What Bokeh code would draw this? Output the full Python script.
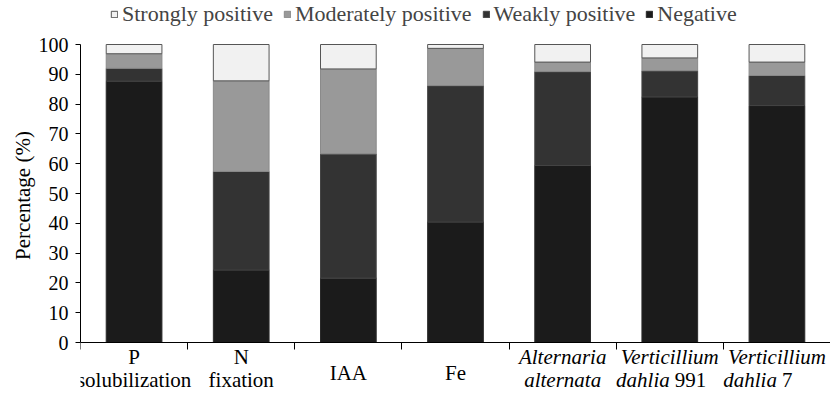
from bokeh.plotting import figure
from bokeh.models import Legend, LegendItem, FixedTicker, Range1d, ColumnDataSource, Title
from bokeh.embed import file_html
from bokeh.resources import INLINE

categories = ["P solubilization", "N fixation", "IAA", "Fe",
              "Alternaria alternata", "Verticillium dahlia 991", "Verticillium dahlia 7"]
negative = [87.7, 24.3, 21.6, 40.4, 59.4, 82.4, 79.5]
weakly = [4.3, 33.1, 41.7, 45.8, 31.5, 8.8, 10.1]
moderately = [4.9, 30.4, 28.5, 12.5, 3.2, 4.3, 4.5]
strongly = [3.1, 12.2, 8.2, 1.3, 5.9, 4.5, 5.9]
y_ticks = [0, 10, 20, 30, 40, 50, 60, 70, 80, 90, 100]

# label lines: (italic part, upright part)
label_line1 = [("", "P"), ("", "N"), None, None,
               ("Alternaria", ""), ("Verticillium", ""), ("Verticillium", "")]
label_line2 = [("", "solubilization"), ("", "fixation"), ("", "IAA"), ("", "Fe"),
               ("alternata", ""), ("dahlia", "991"), ("dahlia", "7")]

FONT = "Liberation Serif"
series = ["strongly", "moderately", "weakly", "negative"]
names = ["Strongly positive", "Moderately positive", "Weakly positive", "Negative"]
colors = {"negative": "#1b1b1b", "weakly": "#333333",
          "moderately": "#999999", "strongly": "#f1f1f1"}
lines = {"negative": "#2a2a2a", "weakly": "#444444",
         "moderately": "#8a8a8a", "strongly": "#555555"}

xs = [i + 0.5 for i in range(len(categories))]
data = dict(x=xs, negative=negative, weakly=weakly, moderately=moderately, strongly=strongly)

H = 390
PXU = 2.98               # pixels per percentage unit
TOP_PX = 44              # pixels from top of plot to the 100 line
y_end = 100 + TOP_PX / PXU
y_start = y_end - H / PXU

p = figure(output_backend="svg", toolbar_location=None,
           frame_width=750, frame_height=H,
           min_border_left=80, min_border_right=0,
           min_border_top=0, min_border_bottom=0,
           x_range=Range1d(0, len(categories)), y_range=Range1d(y_start, y_end))
p.outline_line_color = None
p.xgrid.visible = False
p.ygrid.visible = False

stack_order = ["negative", "weakly", "moderately", "strongly"]
rends = p.vbar_stack(stack_order, x="x", width=0.52, source=data,
                     color=[colors[s] for s in stack_order],
                     line_color=[lines[s] for s in stack_order], line_width=1)
rmap = dict(zip(stack_order, rends))

p.yaxis.bounds = (0, 100)
p.yaxis.ticker = FixedTicker(ticks=y_ticks)
p.yaxis.major_tick_out = 5
p.yaxis.major_tick_in = 0
p.yaxis.minor_tick_line_color = None
p.yaxis.major_label_text_font = FONT
p.yaxis.major_label_text_font_size = "20px"
p.yaxis.major_label_text_color = "black"
p.yaxis.major_label_standoff = 7
p.yaxis.axis_line_color = "black"

p.add_layout(Title(text="Percentage (%)", align="center", offset=19, standoff=2,
                   text_font=FONT, text_font_size="21px", text_font_style="normal",
                   text_color="black"), "left")

p.xaxis.fixed_location = 0
p.xaxis.ticker = FixedTicker(ticks=list(range(len(categories) + 1)))
p.xaxis.major_tick_out = 7
p.xaxis.major_tick_in = 0
p.xaxis.minor_tick_line_color = None
p.xaxis.major_label_text_font_size = "1px"
p.xaxis.major_label_text_alpha = 0
p.xaxis.major_label_standoff = 0
p.xaxis.axis_line_color = "black"

legend = Legend(items=[LegendItem(label=n, renderers=[rmap[s]]) for s, n in zip(series, names)],
                orientation="horizontal", location=(30, H - 27),
                label_text_font=FONT, label_text_font_size="22px",
                glyph_width=8, glyph_height=8, label_standoff=4, spacing=10,
                padding=0, margin=0, border_line_color=None, background_fill_alpha=0)
p.add_layout(legend, "center")

groups = {}
def add_piece(x, yoff, text, italic, align, xoff):
    if not text:
        return
    key = (italic, align)
    g = groups.setdefault(key, dict(x=[], y=[], text=[], xoff=[], yoff=[]))
    g["x"].append(x); g["y"].append(0); g["text"].append(text)
    g["xoff"].append(xoff); g["yoff"].append(yoff)

Y1, Y2, YS = 14, 37, 30
for i, x in enumerate(xs):
    l1, l2 = label_line1[i], label_line2[i]
    if l1 is None:
        add_piece(x, YS, l2[1], False, "center", 0)
        continue
    for line, yy in ((l1, Y1), (l2, Y2)):
        it, up = line
        if it and up:
            add_piece(x, yy, it, True, "right", 0)
            add_piece(x, yy, up, False, "left", 5)
        elif it:
            add_piece(x, yy, it, True, "center", 0)
        else:
            add_piece(x, yy, up, False, "center", 0)

for (italic, align), g in groups.items():
    p.text(x="x", y="y", text="text", x_offset="xoff", y_offset="yoff",
           source=ColumnDataSource(g),
           text_font={"value": FONT}, text_font_size="21px",
           text_font_style="italic" if italic else "normal",
           text_align=align, text_baseline="middle", text_color="black")

open("out.html", "w").write(file_html(p, INLINE))
